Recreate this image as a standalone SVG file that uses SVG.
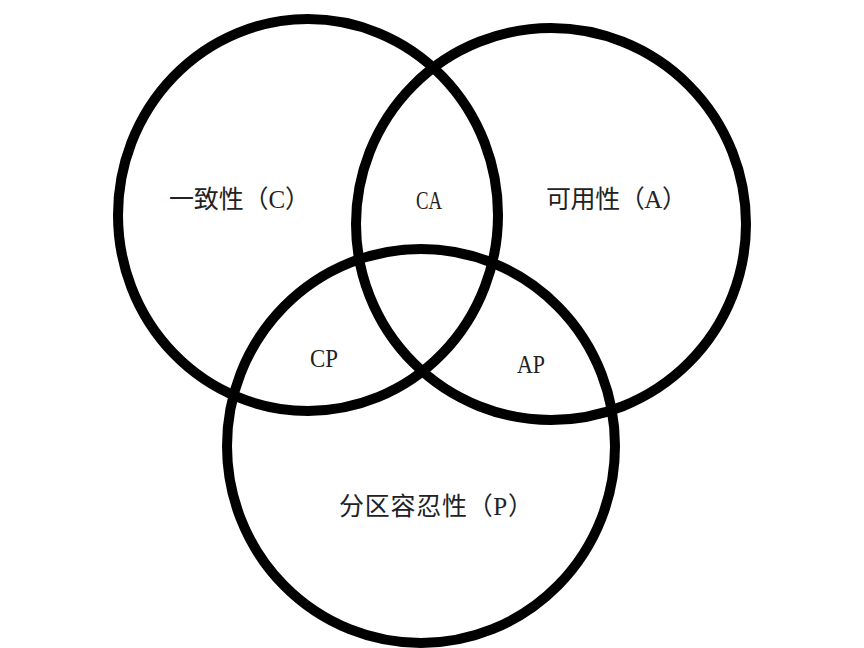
<svg xmlns="http://www.w3.org/2000/svg" width="864" height="648" viewBox="0 0 864 648">
<style>
.ring{fill:none;stroke:#000;stroke-width:10}
.cjk{font-family:"Liberation Serif","Noto Sans CJK SC",serif;font-size:25px;fill:#222}
.lat{font-family:"Liberation Serif",serif;font-size:25px;fill:#222}
</style>
<rect width="864" height="648" fill="#fff"/>
<g id="circle-C"><ellipse class="ring" cx="308" cy="215" rx="190" ry="196"/><text class="cjk" x="169" y="208" textLength="141" lengthAdjust="spacing">一致性（C）</text></g>
<g id="circle-A"><ellipse class="ring" cx="551" cy="224" rx="195" ry="196"/><text class="cjk" x="546" y="208" textLength="141" lengthAdjust="spacing">可用性（A）</text></g>
<g id="circle-P"><ellipse class="ring" cx="421" cy="446" rx="194" ry="197"/><text class="cjk" x="339" y="515" textLength="194" lengthAdjust="spacing">分区容忍性（P）</text></g>
<g id="CA"><text class="lat" x="416" y="209" textLength="26" lengthAdjust="spacingAndGlyphs">CA</text></g>
<g id="CP"><text class="lat" x="310" y="367" textLength="28" lengthAdjust="spacingAndGlyphs">CP</text></g>
<g id="AP"><text class="lat" x="517" y="373" textLength="28" lengthAdjust="spacingAndGlyphs">AP</text></g>
</svg>
